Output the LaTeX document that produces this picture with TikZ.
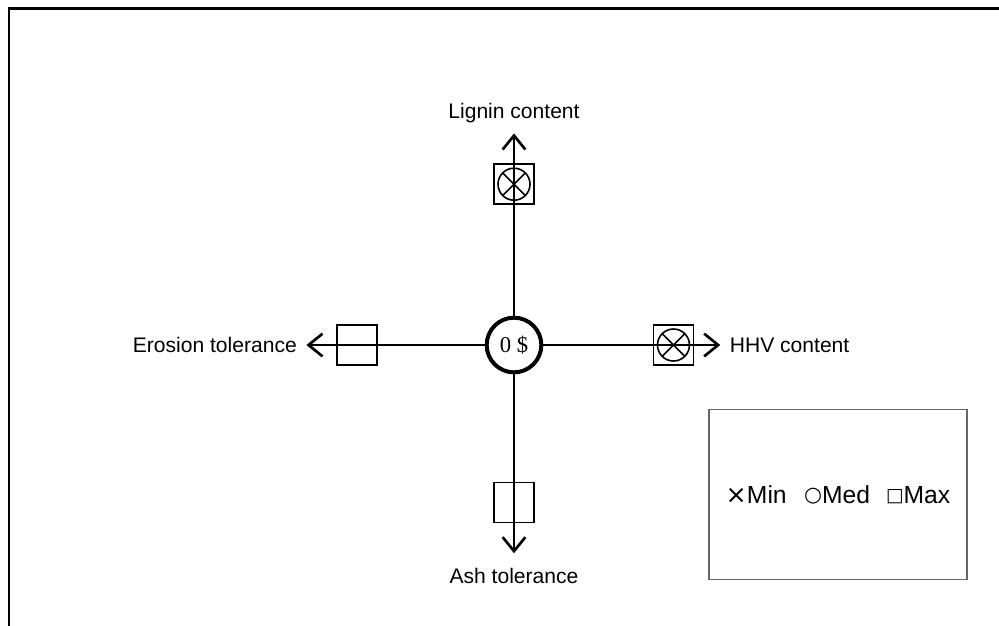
\documentclass[tikz,border=0pt]{standalone}
\usepackage{fontspec}
\setmainfont{Liberation Sans}
\newfontfamily\dollarfont{Liberation Serif}
\newfontfamily\keysym{DejaVu Sans}
\usetikzlibrary{positioning,arrows.meta}

\begin{document}
\begin{tikzpicture}[
  x=0.75pt, y=-0.75pt,
  hub/.style={circle, draw, line width=3pt, minimum size=41pt, inner sep=0pt,
    font=\dollarfont\fontsize{17}{20}\selectfont},
  box/.style={draw, line width=1.2pt, minimum size=30pt, inner sep=0pt},
  xcirc/.style={circle, draw, line width=1.2pt, minimum size=24pt, inner sep=0pt,
    path picture={\draw[line width=1.2pt]
      (path picture bounding box.north west) -- (path picture bounding box.south east)
      (path picture bounding box.south west) -- (path picture bounding box.north east);}},
  arr/.style={line width=2pt, -{Straight Barb[length=10.5pt,width=17pt]}},
  lbl/.style={inner sep=0pt, font=\fontsize{15.8}{19}\selectfont},
  legend/.style={draw=black!60, line width=0.8pt, minimum width=193.5pt,
    minimum height=128pt, font=\fontsize{18.5}{22}\selectfont}
]
\useasboundingbox (0,0) rectangle (999,625);
\draw[line width=2.2pt] (9,640) |- (1010,8.5);

\node[hub] (hub) at (514,345) {0 \$};
\node[box, above=83pt of hub] (lig) {};
\node[box, below=80.5pt of hub] (ash) {};
\node[box, left=80pt of hub] (ero) {};
\node[box, right=82pt of hub] (hhv) {};
\node[xcirc] (ligx) at (lig) {};
\node[xcirc] (hhvx) at (hhv) {};

\coordinate[above=22.5pt of lig] (ligtip);
\coordinate[below=22.5pt of ash] (ashtip);
\coordinate[left=22.5pt of ero] (erotip);
\coordinate[right=19.5pt of hhv] (hhvtip);

\draw[arr] (hub) -- (ligtip);
\draw[arr] (hub) -- (ashtip);
\draw[arr] (hub) -- (erotip);
\draw[arr] (hub) -- (hhvtip);

\node[lbl, above=8pt of ligtip] (ligl) {Lignin content};
\node[lbl, below=11pt of ashtip] (ashl) {Ash tolerance};
\node[lbl, left=7pt of erotip] (erol) {Erosion tolerance};
\node[lbl, right=7pt of hhvtip] (hhvl) {HHV content};

\node[legend] (key) at (838,494.5)
  {{\keysym\fontsize{19}{18}\selectfont ×}Min\hspace{13pt}%
   \raisebox{1.5pt}{\keysym\fontsize{15.5}{18}\selectfont ○}Med\hspace{12pt}%
   \raisebox{1.5pt}{\keysym\fontsize{14}{18}\selectfont □}Max};
\end{tikzpicture}
\end{document}
